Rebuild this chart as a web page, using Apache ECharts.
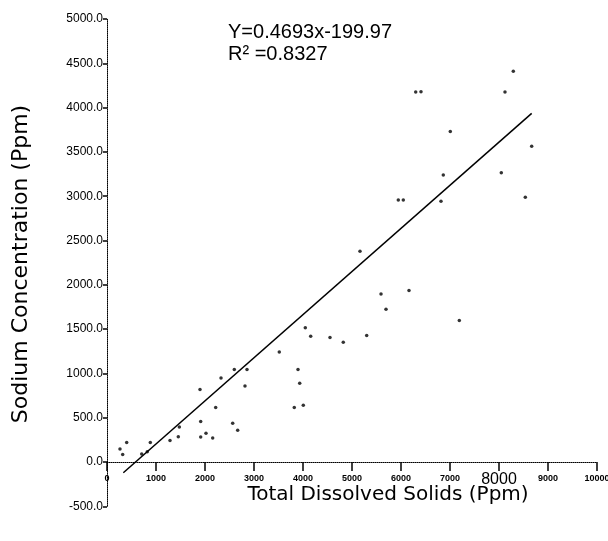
<!DOCTYPE html>
<html>
<head>
<meta charset="utf-8">
<script src="https://cdn.jsdelivr.net/npm/echarts@6/dist/echarts.min.js"></script>
<style>
html,body{margin:0;padding:0;background:#fff;}
#chart{width:608px;height:541px;}
</style>
</head>
<body>
<div id="chart"></div>
<script>
// Total dissolved solids (ppm) for each sample
var tds = [265,320,402,708,822,884,1286,1455,1476,1898,1912,1912,2020,2157,2218,2327,2565,2598,2667,2816,2857,3516,3822,3898,3933,4006,4047,4157,4551,4822,5163,5300,5592,5694,5945,6047,6163,6300,6408,6816,6863,7006,7190,8047,8122,8292,8537,8667];
// Sodium concentration (ppm) for each sample
var sodium = [146,86,219,91,117,219,244,285,395,817,456,281,325,270,614,947,436,1045,358,859,1045,1241,614,1045,888,640,1515,1420,1404,1352,2380,1427,1896,1723,2956,2956,1935,4176,4180,2943,3240,3730,1598,3265,4176,4410,2987,3565];
// Fitted line end points
var fitX = [333, 8667];
var fitY = [-122, 3935];
var equationText = 'Y=0.4693x-199.97';
var r2Text = 'R\u00b2 =0.8327';
var xTitle = 'Total Dissolved Solids (Ppm)';
var yTitle = 'Sodium Concentration (Ppm)';

var points = tds.map(function (x, i) { return [x, sodium[i]]; });
var fitLine = fitX.map(function (x, i) { return [x, fitY[i]]; });

var gridTop = 19, gridBottom = 34.7;
var chartH = 541;
var plotH = chartH - gridTop - gridBottom;
// distance from grid bottom (y = -500) up to y = 0
var zeroOffset = plotH * 500 / 5500;

var chart = echarts.init(document.getElementById('chart'), null, {renderer: 'canvas'});
chart.setOption({
  backgroundColor: '#fff',
  animation: false,
  grid: {left: 107, right: 11, top: gridTop, bottom: gridBottom, containLabel: false, outerBoundsMode: 'none'},
  xAxis: {
    type: 'value', min: 0, max: 10000, interval: 1000,
    offset: -zeroOffset,
    splitLine: {show: false},
    axisLine: {onZero: false, lineStyle: {color: '#000', width: 1, type: 'dotted'}},
    axisTick: {show: true, length: 9, inside: false, lineStyle: {color: '#000', width: 1.5}},
    axisLabel: {
      color: '#000', fontSize: 9, fontWeight: 'bold', fontFamily: 'Liberation Sans', margin: 12,
      formatter: function (v) { return v === 8000 ? '{big|8000}' : String(v); },
      rich: {big: {fontSize: 16, lineHeight: 12, fontFamily: 'Liberation Sans', color: '#000', fontWeight: 'normal'}}
    }
  },
  yAxis: {
    type: 'value', min: -500, max: 5000, interval: 500,
    splitLine: {show: false},
    axisLine: {onZero: false, lineStyle: {color: '#000', width: 1, type: 'dotted'}},
    axisTick: {show: true, length: 4, lineStyle: {color: '#000', width: 1.5}},
    axisLabel: {
      color: '#000', fontSize: 12, fontFamily: 'Liberation Sans', margin: 4,
      formatter: function (v) { return v.toFixed(1); }
    }
  },
  graphic: [
    {type: 'text', left: 228, top: 22, style: {text: equationText, font: '20px "Liberation Sans"', fill: '#000'}},
    {type: 'text', left: 228, top: 44, style: {text: r2Text, font: '20px "Liberation Sans"', fill: '#000'}},
    {type: 'text', x: 388, y: 495, style: {text: xTitle, font: '20px "DejaVu Sans"', fill: '#000', align: 'center', verticalAlign: 'middle'}},
    {type: 'text', x: 21, y: 264, rotation: Math.PI / 2, style: {text: yTitle, font: '22px "DejaVu Sans"', fill: '#000', align: 'center', verticalAlign: 'middle'}}
  ],
  series: [
    {
      type: 'line', data: fitLine, symbol: 'none',
      lineStyle: {color: '#000', width: 1.5}, z: 2
    },
    {
      type: 'scatter', data: points, symbol: 'circle', symbolSize: 3.5,
      itemStyle: {color: '#000'}, z: 3
    }
  ]
});
</script>
</body>
</html>
